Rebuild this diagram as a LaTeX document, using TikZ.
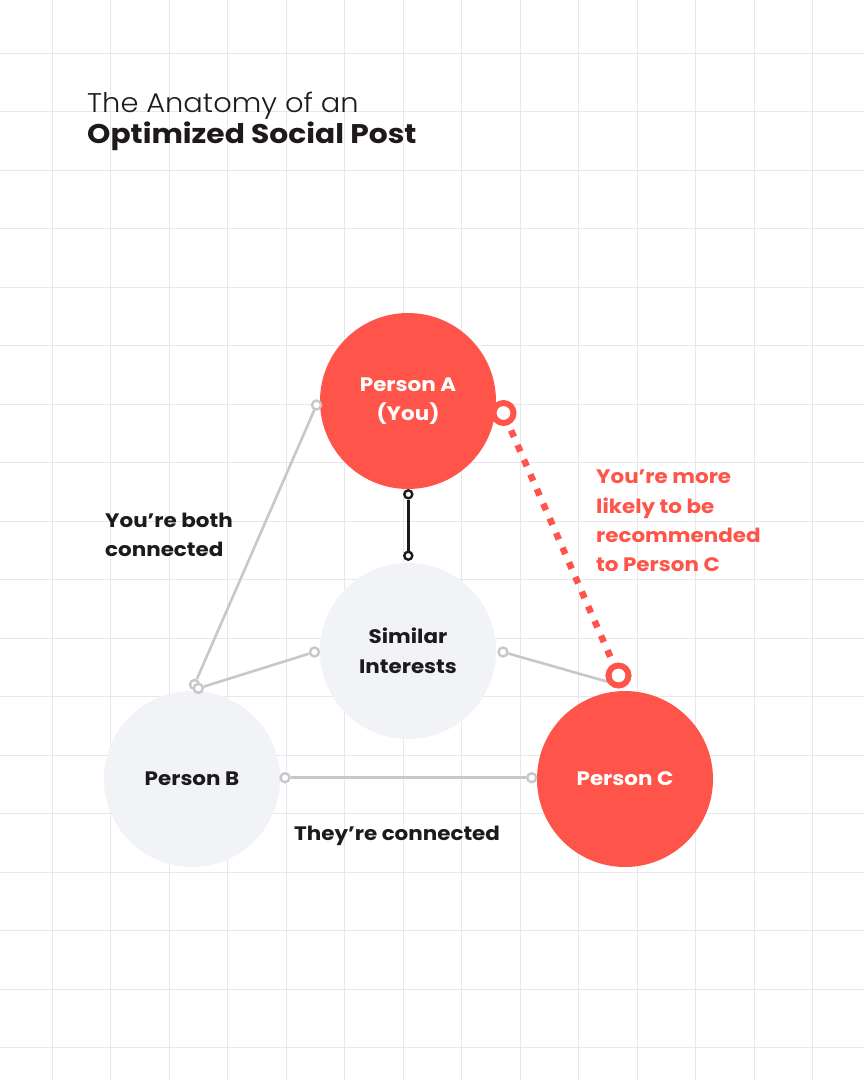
\documentclass[tikz,border=0pt]{standalone}
\usepackage{fontspec}
\setmainfont{Poppins}[BoldFont={Poppins Bold}, BoldFeatures={FakeStretch=1.1}]
\newfontfamily\titlelight{Poppins Light}[FakeStretch=1.07]
\newfontfamily\titlebold{Poppins Bold}[FakeStretch=1.1]
\definecolor{accent}{HTML}{FF5449}
\definecolor{softgray}{HTML}{F2F3F7}
\definecolor{ink}{HTML}{1E1A1B}
\definecolor{gridcol}{HTML}{E8E8EA}
\definecolor{conngray}{HTML}{C8C8CC}
\pgfdeclarelayer{gridlayer}
\pgfdeclarelayer{linelayer}
\pgfsetlayers{gridlayer,linelayer,main}
\tikzset{
  gridline/.style={draw=gridcol, line width=1.5pt},
  bigcirc/.style={circle, inner sep=0pt, minimum size=176pt, align=center,
    font=\fontsize{19.5}{29.5}\selectfont\bfseries},
  redcirc/.style={bigcirc, fill=accent, text=white},
  graycirc/.style={bigcirc, fill=softgray, text=ink},
  endgray/.style={circle, draw=conngray, fill=white, line width=2.4pt, minimum size=9pt, inner sep=0pt},
  endblack/.style={circle, draw=ink, fill=white, line width=2.4pt, minimum size=8pt, inner sep=0pt},
  ring/.style={circle, draw=accent, fill=white, line width=6pt, minimum size=20pt, inner sep=0pt},
  conngrayline/.style={draw=conngray, line width=2.6pt},
  connblack/.style={draw=ink, line width=2.8pt},
  recline/.style={draw=accent, line width=6.5pt, dash pattern=on 7pt off 9pt, dash phase=-6pt},
  label/.style={anchor=west, align=left, inner sep=0pt, font=\fontsize{19.5}{29.3}\selectfont\bfseries},
}
\begin{document}
\begin{tikzpicture}[x=1pt,y=-1pt]
\useasboundingbox (0,0) rectangle (864,1080);
\begin{pgfonlayer}{gridlayer}
\fill[white] (0,0) rectangle (864,1080);
\foreach \i in {0,...,13} \draw[gridline] ({int(52+58.5*\i)+0.5},0) -- ({int(52+58.5*\i)+0.5},1080);
\foreach \j in {0,...,17} \draw[gridline] (0,{int(53.3+58.5*\j)+0.5}) -- (864,{int(53.3+58.5*\j)+0.5});
\end{pgfonlayer}

% title
\node[anchor=base west, inner sep=0pt, font=\fontsize{27}{31}\selectfont\titlelight, text=ink] (t1) at (87,112.3) {The Anatomy of an};
\node[anchor=base west, inner sep=0pt, font=\fontsize{27}{31}\selectfont\titlebold, text=ink] (t2) at (87,143.3) {Optimized Social Post};

% circles
\node[redcirc] (A) at (408,401) {Person A\\(You)};
\node[graycirc] (S) at (408,651) {Similar\\Interests};
\node[graycirc] (B) at (192,779) {Person B};
\node[redcirc] (C) at (625,779) {Person C};

% connector ends
\node[endgray] (ab1) at (316.5,405) {};
\node[endgray] (ab2) at (194.5,684.5) {};
\node[endgray] (sb1) at (314.5,652) {};
\node[endgray] (sb2) at (198.3,688.3) {};
\node[endgray] (sc1) at (503,652) {};
\coordinate (sc2) at (612,683);
\node[endgray] (bc1) at (285,777.7) {};
\node[endgray] (bc2) at (531.7,777.7) {};
\node[endblack] (as1) at (408.3,494.3) {};
\node[endblack] (as2) at (408.3,555.7) {};
\node[ring] (rA) at (503.5,413) {};
\node[ring] (rC) at (618.5,675.5) {};

\begin{pgfonlayer}{linelayer}
\draw[conngrayline] (ab1) -- (ab2);
\draw[conngrayline] (sb1) -- (sb2);
\draw[conngrayline] (sc1) -- (sc2);
\draw[conngrayline] (bc1) -- (bc2);
\draw[connblack] (as1) -- (as2);
\draw[recline] (rA) -- (rC);
\end{pgfonlayer}

% labels
\node[label, text=ink] (lb1) at (105,535) {You’re both\\connected};
\node[label, text=accent] (lb2) at (596,521) {You’re more\\likely to be\\recommended\\to Person C};
\node[label, text=ink, anchor=base west] (lb3) at (294,840) {They’re connected};
\end{tikzpicture}
\end{document}
